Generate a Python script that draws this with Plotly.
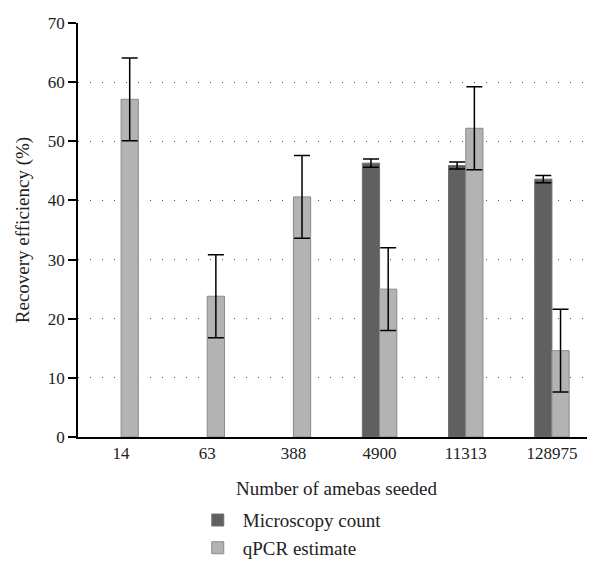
import plotly.graph_objects as go

categories = ["14", "63", "388", "4900", "11313", "128975"]
microscopy = [None, None, None, 46.3, 45.9, 43.6]
microscopy_err = [None, None, None, 0.7, 0.6, 0.6]
qpcr = [57.1, 23.8, 40.6, 25.0, 52.2, 14.6]
qpcr_err = [7.0, 7.0, 7.0, 7.0, 7.0, 7.0]
y_ticks = [0, 10, 20, 30, 40, 50, 60, 70]

FONT = "Liberation Serif"

fig = go.Figure()
fig.add_trace(go.Bar(
    x=categories, y=microscopy, name="Microscopy count",
    marker=dict(color="#606060", line=dict(color="#707070", width=1)),
    error_y=dict(type="data", array=microscopy_err, color="black", thickness=1.5, width=8),
))
fig.add_trace(go.Bar(
    x=categories, y=qpcr, name="qPCR estimate",
    marker=dict(color="#b3b3b3", line=dict(color="#8a8a8a", width=1)),
    error_y=dict(type="data", array=qpcr_err, color="black", thickness=1.5, width=8),
))

fig.update_layout(
    width=587, height=566,
    paper_bgcolor="white", plot_bgcolor="white",
    margin=dict(l=70, r=0, t=15, b=137),
    barmode="group", bargap=0.6, bargroupgap=0,
    font=dict(family=FONT, size=19, color="#222"),
    showlegend=True,
    legend=dict(orientation="v", x=0.222, y=-0.155, xanchor="left", yanchor="top",
                font=dict(family=FONT, size=19, color="#222"), itemwidth=40,
                tracegroupgap=0),
)
fig.update_yaxes(
    range=[0, 70], tickvals=y_ticks, showline=True, linecolor="black", linewidth=1.5,
    ticks="outside", ticklen=8, tickcolor="black", tickwidth=1.5,
    showgrid=True, gridcolor="#555", griddash="1px,11px", gridwidth=1,
    zeroline=False, automargin=False,
    title=dict(text="Recovery efficiency (%)", font=dict(family=FONT, size=19), standoff=13),
    tickfont=dict(family=FONT, size=17),
)
fig.update_xaxes(
    showline=True, linecolor="black", linewidth=1.5, ticks="", automargin=False,
    title=dict(text="Number of amebas seeded", font=dict(family=FONT, size=19), standoff=20),
    tickfont=dict(family=FONT, size=17),
)
fig.write_html("out.html")
